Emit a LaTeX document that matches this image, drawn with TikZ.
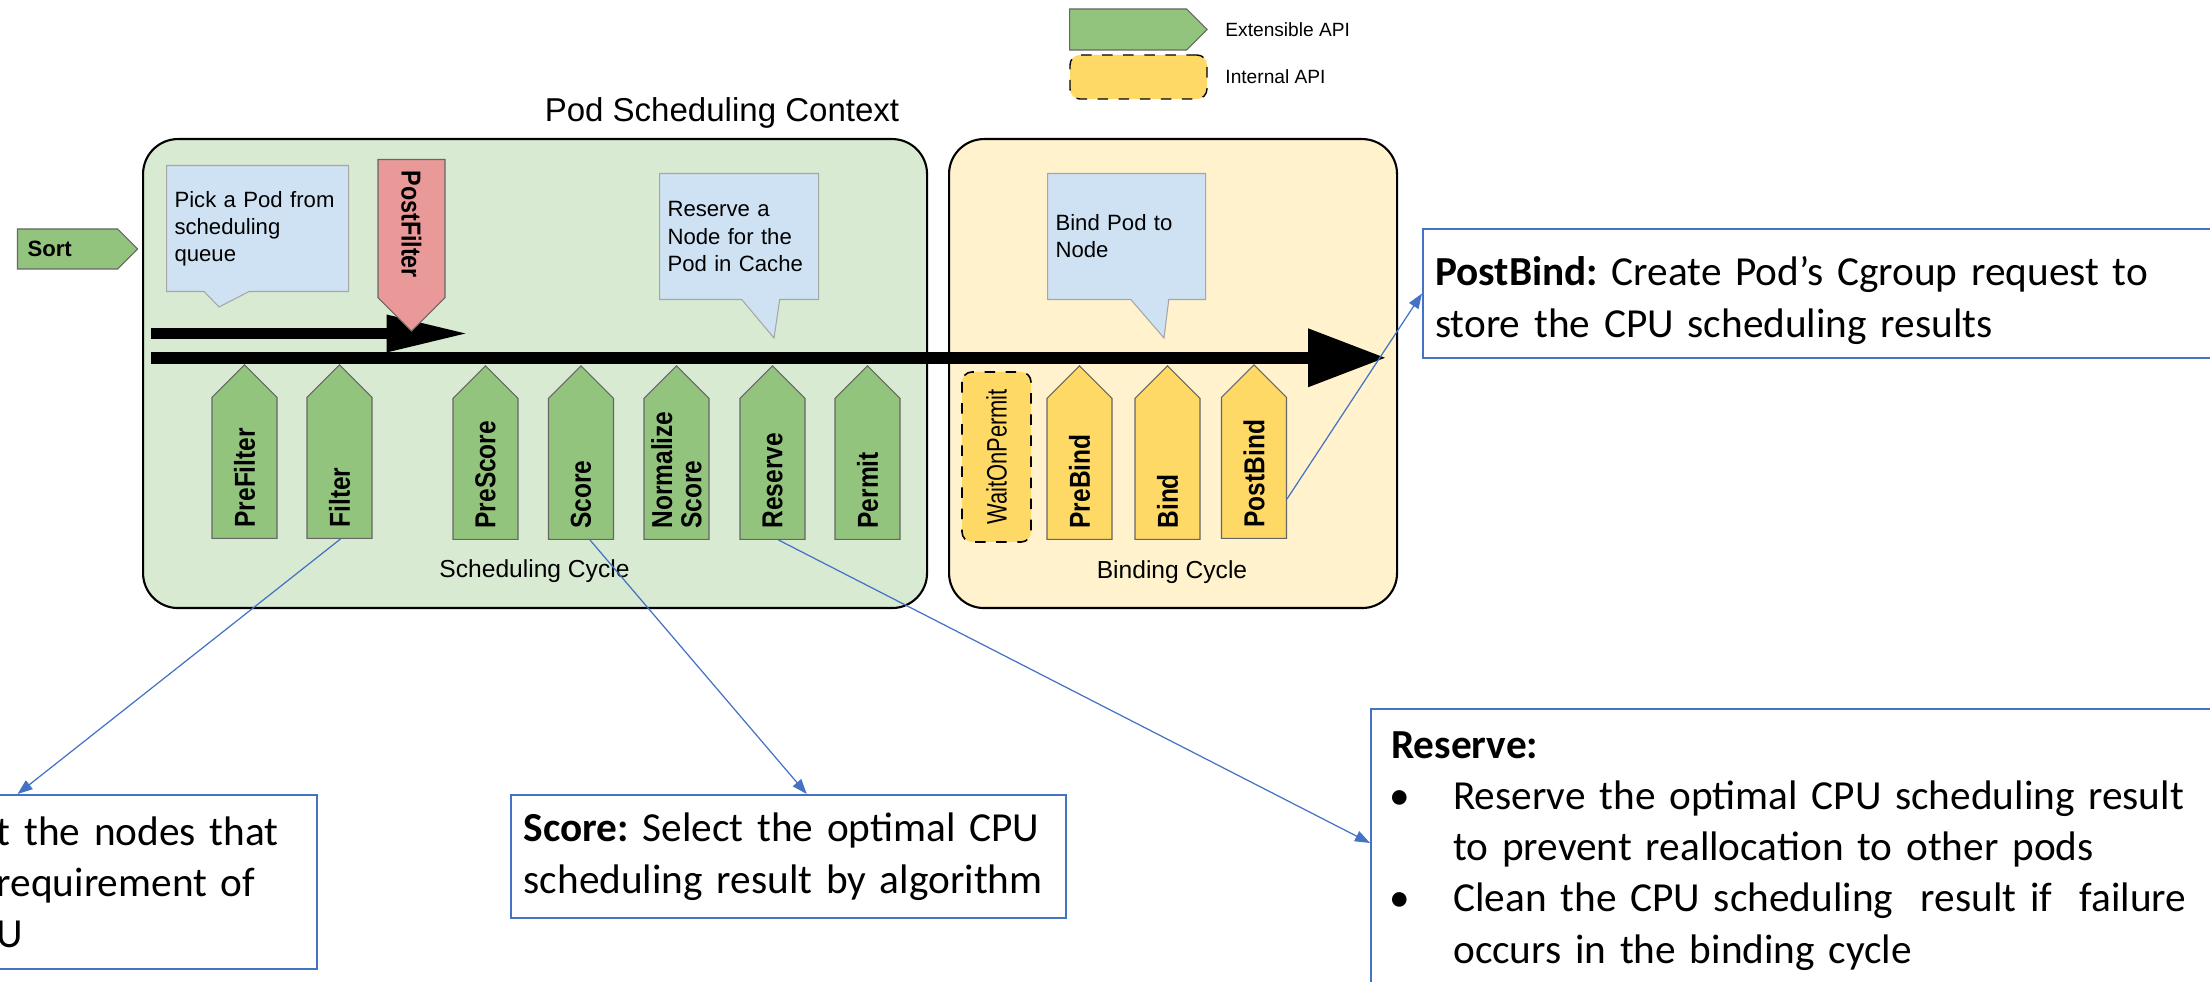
\documentclass[tikz,border=0pt]{standalone}
\usepackage{fontspec}
\setmainfont{Liberation Sans}
\newfontfamily\notefont{Carlito}
\newfontfamily\plugfont{Liberation Sans}[FakeStretch=0.85]
\newfontfamily\waitfont{Liberation Sans}[FakeStretch=0.78]
\usetikzlibrary{arrows.meta,shapes.symbols,shapes.callouts}
\hyphenpenalty=10000
\definecolor{ctxgreen}{HTML}{D9EAD3}
\definecolor{ctxyellow}{HTML}{FFF2CC}
\definecolor{extgreen}{HTML}{93C47D}
\definecolor{intyellow}{HTML}{FFD966}
\definecolor{callblue}{HTML}{CFE2F3}
\definecolor{postred}{HTML}{EA9999}
\definecolor{noteblue}{HTML}{4472C4}
\tikzset{
	ctxbox/.style={draw=black,line width=0.6pt,rounded corners=0.35cm,anchor=north west},
	plugin/.style={signal,signal to=east,signal from=nowhere,signal pointer angle=90,
		draw=black!60,line width=0.3pt,anchor=west,minimum height=0.65cm,
		inner xsep=0.11cm,inner ysep=0pt,text width=1.19cm,align=left,
		font=\plugfont\fontsize{8.2}{8.3}\selectfont\bfseries},
	callbox/.style={rectangle callout,fill=callblue,draw=black!35,line width=0.3pt,
		anchor=north west,minimum height=1.26cm,inner xsep=0.08cm,align=left,
		font=\fontsize{6.3}{7.7}\selectfont},
	notebox/.style={draw=noteblue,line width=0.7pt,inner xsep=0.2cm,align=left,
		font=\notefont\fontsize{11.75}{14.6}\selectfont\frenchspacing},
	notelink/.style={draw=noteblue,line width=0.35pt,-{Triangle[length=0.15cm 0 0,width=0.11cm 0 0]}}
}
\begin{document}
\begin{tikzpicture}
	\useasboundingbox (0,0) rectangle (22.1,-9.82);
	\clip (0,0) rectangle (22.1,-9.82);
	%Legend
	\node[plugin,fill=extgreen,minimum height=0.41cm,inner xsep=0pt,text width=1.17cm] (extlegend) at (10.69,-0.295) {};
	\node[anchor=west,font=\fontsize{5.45}{6.5}\selectfont] (exttext) at (12.13,-0.30) {Extensible API};
	\node[draw=black,dashed,fill=intyellow,rounded corners=0.1cm,minimum width=1.37cm,minimum height=0.44cm] (intlegend) at (11.385,-0.77) {};
	\node[anchor=west,font=\fontsize{5.45}{6.5}\selectfont] (inttext) at (12.13,-0.77) {Internal API};
	%Context boxes
	\node[ctxbox,fill=ctxgreen,minimum width=7.84cm,minimum height=4.69cm] (schedcycle) at (1.42,-1.38) {};
	\node[ctxbox,fill=ctxyellow,minimum width=4.48cm,minimum height=4.69cm] (bindcycle) at (9.48,-1.38) {};
	\node[font=\fontsize{9.4}{11}\selectfont] (ctxtitle) at (7.22,-1.13) {Pod Scheduling Context};
	\node[font=\fontsize{7}{8.4}\selectfont] (schedlabel) at (5.345,-5.71) {Scheduling Cycle};
	\node[font=\fontsize{7}{8.4}\selectfont] (bindlabel) at (11.72,-5.72) {Binding Cycle};
	%Sort
	\node[plugin,fill=extgreen,minimum height=0.40cm,inner xsep=0.1cm,text width=0.8cm,font=\fontsize{6.3}{7.5}\selectfont\bfseries] (sort) at (0.17,-2.49) {Sort};
	%Callouts
	\node[callbox,callout absolute pointer={(2.19,-3.07)},callout pointer width=0.45cm,minimum width=1.82cm,text width=1.66cm] (pickcall) at (1.66,-1.65) {Pick a Pod from\\scheduling\\queue};
	\node[callbox,callout absolute pointer={(7.74,-3.38)},callout pointer width=0.38cm,minimum width=1.59cm,text width=1.43cm] (reservecall) at (6.59,-1.73) {Reserve a\\Node for the\\Pod in Cache};
	\node[callbox,callout absolute pointer={(11.64,-3.38)},callout pointer width=0.38cm,minimum width=1.58cm,text width=1.42cm] (bindcall) at (10.47,-1.73) {Bind Pod to\\Node};
	%Flow arrows
	\coordinate (queuein) at (1.51,-3.335);
	\coordinate (queueout) at (4.655,-3.335);
	\coordinate (flowin) at (1.51,-3.578);
	\coordinate (flowout) at (13.85,-3.578);
	\draw[line width=0.117cm,-{Triangle[length=0.79cm 0 0,width=0.38cm 0 0,line width=0pt 0 0]}] (queuein) -- (queueout);
	\draw[line width=0.117cm,-{Triangle[length=0.77cm 0 0,width=0.59cm 0 0,line width=0pt 0 0]}] (flowin) -- (flowout);
	%PostFilter
	\node[plugin,fill=postred,rotate=-90,minimum height=0.67cm,text width=1.16cm,font=\plugfont\fontsize{7.8}{8.3}\selectfont\bfseries] (postfilter) at (4.115,-1.59) {PostFilter};
	%Scheduling cycle plugins
	\node[plugin,fill=extgreen,rotate=90] (prefilter) at (2.445,-5.39) {PreFilter};
	\node[plugin,fill=extgreen,rotate=90] (filter) at (3.395,-5.39) {Filter};
	\node[plugin,fill=extgreen,rotate=90] (prescore) at (4.855,-5.40) {PreScore};
	\node[plugin,fill=extgreen,rotate=90] (score) at (5.81,-5.40) {Score};
	\node[plugin,fill=extgreen,rotate=90] (normscore) at (6.765,-5.40) {Normalize\\Score};
	\node[plugin,fill=extgreen,rotate=90] (reserve) at (7.725,-5.40) {Reserve};
	\node[plugin,fill=extgreen,rotate=90] (permit) at (8.675,-5.40) {Permit};
	%Binding cycle plugins
	\node[draw=black,dashed,line width=0.45pt,fill=intyellow,rounded corners=0.1cm,rotate=90,minimum width=1.70cm,minimum height=0.69cm,font=\waitfont\fontsize{8}{9}\selectfont] (waitpermit) at (9.965,-4.57) {WaitOnPermit};
	\node[plugin,fill=intyellow,rotate=90] (prebind) at (10.795,-5.40) {PreBind};
	\node[plugin,fill=intyellow,rotate=90] (bind) at (11.675,-5.40) {Bind};
	\node[plugin,fill=intyellow,rotate=90] (postbind) at (12.54,-5.39) {PostBind};
	%Notes
	\node[notebox,anchor=west,inner xsep=0.12cm,minimum width=9cm,minimum height=1.29cm,text width=8.76cm] (postbindnote) at (14.22,-2.935) {\rule{0pt}{0.43cm}\textbf{PostBind:} Create Pod’s Cgroup request to\\store the CPU scheduling results};
	\node[notebox,anchor=north east,minimum height=1.74cm,text width=3.0cm] (filternote) at (3.18,-7.94) {t the nodes that\\requirement of\\U};
	\node[notebox,anchor=north west,inner xsep=0.125cm,minimum width=5.55cm,minimum height=1.23cm,text width=5.3cm] (scorenote) at (5.10,-7.94) {\textbf{Score:} Select the optimal CPU\\scheduling result by algorithm};
	\node[notebox,anchor=north west,inner ysep=0.22cm,text width=8.4cm] (reservenote) at (13.70,-7.08) {\textbf{Reserve:}\\
		\hspace*{-0.02cm}\makebox[0.64cm][l]{•}Reserve the optimal CPU scheduling result\\
		\hspace*{0.62cm}to prevent reallocation to other pods\\
		\hspace*{-0.02cm}\makebox[0.64cm][l]{•}Clean the CPU scheduling\ \ result if\ \ failure\\
		\hspace*{0.62cm}occurs in the binding cycle};
	%Links
	\draw[notelink] ([xshift=0.01cm]filter.west) -- ([xshift=0.42cm]filternote.north west);
	\draw[notelink] ([xshift=0.09cm]score.west) -- ([xshift=0.18cm]scorenote.north);
	\draw[notelink] ([xshift=0.06cm]reserve.west) -- ([yshift=-1.35cm]reservenote.north west);
	\draw[notelink] ([yshift=-0.31cm]postbind.south) -- (postbindnote.west);
\end{tikzpicture}
\end{document}
